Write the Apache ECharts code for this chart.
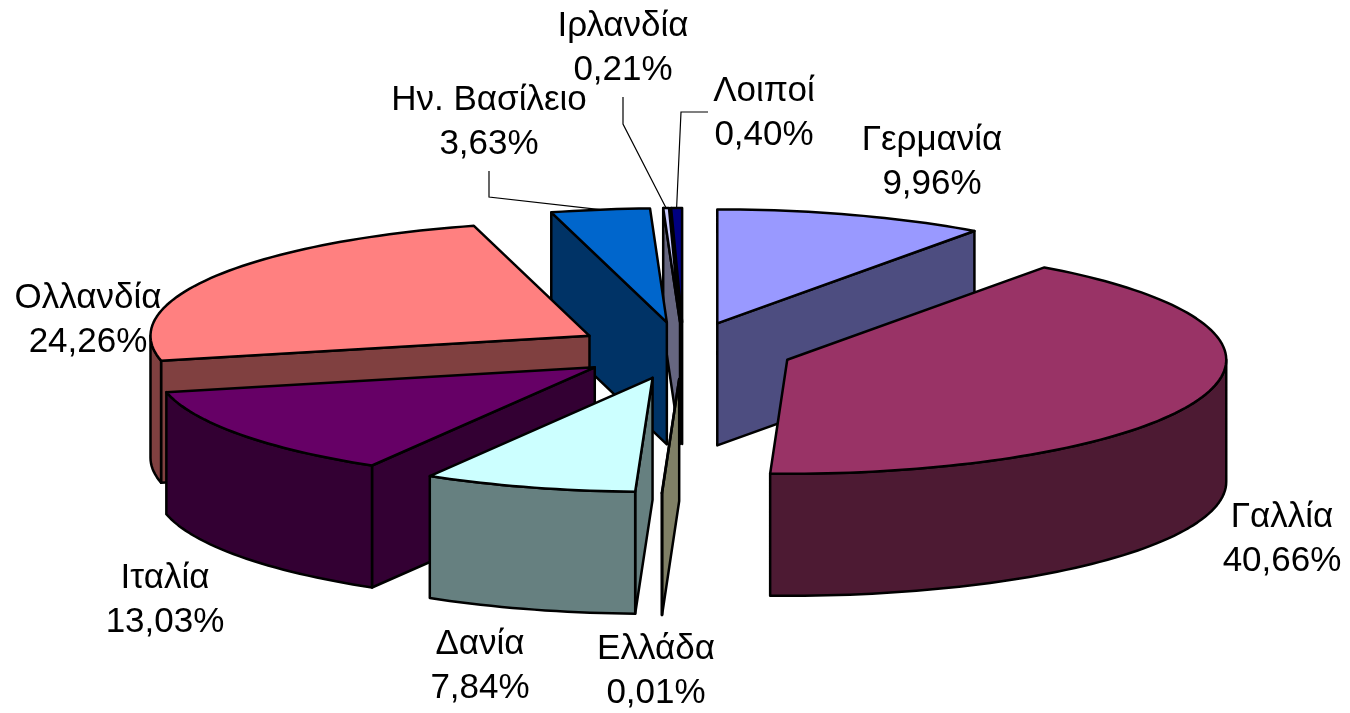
<!DOCTYPE html>
<html>
<head>
<meta charset="utf-8">
<style>
  html, body { margin: 0; padding: 0; background: #fff; }
  #main { width: 1350px; height: 713px; }
</style>
</head>
<body>
<div id="main"></div>
<script src="https://cdn.jsdelivr.net/npm/echarts@6/dist/echarts.min.js"></script>
<script>
// data, clockwise from 12 o'clock
const names = ['Γερμανία', 'Γαλλία', 'Ελλάδα', 'Δανία', 'Ιταλία', 'Ολλανδία', 'Ην. Βασίλειο', 'Ιρλανδία', 'Λοιποί'];
const shares = [9.96, 40.66, 0.01, 7.84, 13.03, 24.26, 3.63, 0.21, 0.40];

// styles
const topColors = ['#9999FF', '#993366', '#FFFFCC', '#CCFFFF', '#660066', '#FF8080', '#0066CC', '#CCCCFF', '#000080'];
const sideColors = ['#4D4D80', '#4D1A33', '#808066', '#668080', '#330033', '#804040', '#003366', '#666680', '#000040'];

// label centres and leader elbows, in pixels
const labelCentres = [[932, 162], [1282, 539], [656, 671], [480, 666], [165, 600], [88, 320], [489, 122], [623, 48], [764, 113]];
const leaderElbows = { 6: [[489, 171], [489, 197]], 7: [[623, 97], [623, 124]], 8: [[708, 112], [681, 112]] };

// pie geometry
const cx = 683.5, cy = 350.5, rx = 439, ry = 114, depth = 122, explode = 0.25;

const total = shares.reduce((a, b) => a + b, 0);
let running = 0;
const slices = shares.map(function (v, i) {
  const a0 = running / total * 360;
  running += v;
  const a1 = running / total * 360;
  const mid = (a0 + a1) / 2;
  return { index: i, a0: a0, a1: a1, mid: mid, ax: cx + explode * onRim(mid)[0], ay: cy + explode * onRim(mid)[1] };
});

function onRim(deg) {
  const r = deg * Math.PI / 180;
  return [rx * Math.sin(r), -ry * Math.cos(r)];
}
function rimPoint(s, deg) {
  const p = onRim(deg);
  return [s.ax + p[0], s.ay + p[1]];
}
function arc(s, from, to) {
  const pts = [];
  const n = Math.max(2, Math.ceil((to - from) / 1.5));
  for (let k = 0; k <= n; k++) pts.push(rimPoint(s, from + (to - from) * k / n));
  return pts;
}
function drop(pts) {
  return pts.map(p => [p[0], p[1] + depth]).reverse();
}
// a radial wall shows when the slice body sits above its edge on screen
function wallShows(s, deg) {
  const e = rimPoint(s, deg), m = rimPoint(s, s.mid + (deg === s.a0 ? 20 : -20));
  const dx = e[0] - s.ax;
  if (Math.abs(dx) < 1e-6) return false;
  return m[1] < s.ay + (m[0] - s.ax) * (e[1] - s.ay) / dx;
}

const stroke = { stroke: '#000', lineWidth: 2.5, lineJoin: 'round' };
function poly(points, fill) {
  return { type: 'polygon', shape: { points: points }, style: Object.assign({ fill: fill }, stroke) };
}

function drawSlice(params, api) {
  const s = slices[api.value(0)];
  const side = sideColors[s.index];
  const kids = [];
  [s.a0, s.a1].forEach(function (deg) {
    if (wallShows(s, deg)) {
      const edge = [[s.ax, s.ay], rimPoint(s, deg)];
      kids.push(poly(edge.concat(drop(edge)), side));
    }
  });
  // outer wall only on the front half of the rim
  const from = Math.max(s.a0, 90), to = Math.min(s.a1, 270);
  if (to > from) {
    const rim = arc(s, from, to);
    kids.push(poly(rim.concat(drop(rim)), side));
  }
  kids.push(poly([[s.ax, s.ay]].concat(arc(s, s.a0, s.a1)), topColors[s.index]));
  return { type: 'group', children: kids };
}

function drawLabel(params, api) {
  const i = api.value(0), s = slices[i], kids = [];
  if (leaderElbows[i]) {
    kids.push({
      type: 'polyline',
      shape: { points: leaderElbows[i].concat([rimPoint(s, s.mid)]) },
      style: { stroke: '#000', lineWidth: 1.2, fill: null }
    });
  }
  kids.push({
    type: 'text',
    style: {
      x: labelCentres[i][0], y: labelCentres[i][1],
      text: names[i] + '\n' + shares[i].toFixed(2).replace('.', ',') + '%',
      font: '35px "Liberation Sans", Arial, sans-serif',
      lineHeight: 44,
      fill: '#000', align: 'center', verticalAlign: 'middle'
    }
  });
  return { type: 'group', children: kids };
}

// painter's order: farthest from the viewer first
const paintOrder = slices.slice()
  .sort((a, b) => Math.abs(b.mid - 180) - Math.abs(a.mid - 180))
  .map(s => [s.index]);

const chart = echarts.init(document.getElementById('main'));
chart.setOption({
  animation: false,
  backgroundColor: '#fff',
  series: [
    { type: 'custom', coordinateSystem: 'none', renderItem: drawSlice, data: paintOrder, z: 2, silent: true },
    { type: 'custom', coordinateSystem: 'none', renderItem: drawLabel, data: names.map((n, i) => [i]), z: 3, silent: true }
  ]
});
</script>
</body>
</html>
